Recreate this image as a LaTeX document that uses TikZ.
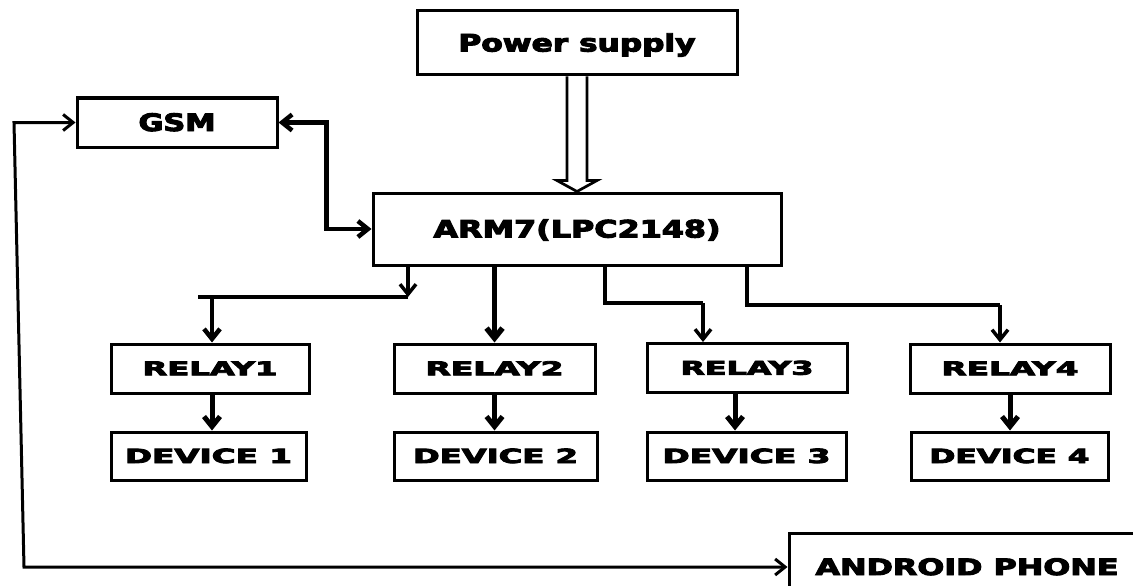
\documentclass[tikz,border=0pt]{standalone}
\usepackage{fontspec}
\setmainfont{DejaVu Sans}[BoldFeatures={FakeBold=4}]
\usetikzlibrary{arrows.meta,calc}
\newcommand\lbl[3]{\resizebox{#1pt}{\height}{\fontsize{#2pt}{#2pt}\selectfont\bfseries #3}}
\begin{document}
\begin{tikzpicture}[x=1pt,y=-1pt,
  blk/.style={draw,line width=3pt,inner sep=0pt,text height=#1,text depth=0pt},
  blk/.default=17pt,
  con/.style={line width=#1,line cap=butt,line join=miter},
  con/.default=3pt,
  arr/.style={-{Straight Barb[length=10pt,width=16pt]}},
  darr/.style={{Straight Barb[length=10pt,width=16pt]}-{Straight Barb[length=10pt,width=16pt]}}]
\clip (0,0) rectangle (1133,586);
\fill[white] (0,0) rectangle (1133,586);

% blocks
\node[blk, minimum width=320pt, minimum height=64pt] (ps) at (577,43) {\lbl{237}{24}{Power supply}};
\node[blk, minimum width=200pt, minimum height=49pt] (gsm) at (177,122.5) {\lbl{77}{24}{GSM}};
\node[blk, minimum width=408pt, minimum height=72pt] (arm) at (577,229) {\lbl{287}{24}{ARM7(LPC2148)}};

\node[blk=13.5pt, minimum width=198pt, minimum height=49pt] (r1) at (210,368.5) {\lbl{135}{19}{RELAY1}};
\node[blk=13.5pt, minimum width=201pt, minimum height=49pt] (r2) at (494.5,368.5) {\lbl{138}{19}{RELAY2}};
\node[blk=13.5pt, minimum width=200pt, minimum height=49pt] (r3) at (747,368) {\lbl{133}{19}{RELAY3}};
\node[blk=13.5pt, minimum width=200pt, minimum height=49pt] (r4) at (1010,368.5) {\lbl{137}{19}{RELAY4}};

\node[blk=14pt, minimum width=195pt, minimum height=48pt] (d1) at (208.5,456) {\lbl{167}{19.5}{DEVICE 1}};
\node[blk=14pt, minimum width=203pt, minimum height=48pt] (d2) at (495.5,456) {\lbl{165}{19.5}{DEVICE 2}};
\node[blk=14pt, minimum width=199pt, minimum height=48pt] (d3) at (746.5,456) {\lbl{168}{19.5}{DEVICE 3}};
\node[blk=14pt, minimum width=197pt, minimum height=48pt] (d4) at (1009.5,456) {\lbl{160}{19.5}{DEVICE 4}};

\node[blk=16pt, minimum width=356pt, minimum height=68pt] (ph) at (967,567) {\lbl{303}{22.5}{ANDROID PHONE}};

% power supply hollow arrow
\draw[line width=2.7pt,line join=miter]
  ($(ps.south)+(-10,0)$) -- ($(arm.north)+(-10,-11)$) -- ($(arm.north)+(-20,-11)$)
  -- (arm.north) -- ($(arm.north)+(20,-11)$) -- ($(arm.north)+(10,-11)$) -- ($(ps.south)+(10,0)$);

% GSM <-> ARM
\draw[con=4.5pt,darr] (gsm.east) -- ++(48,0) |- (arm.west);

% GSM <-> Android phone loop
\coordinate (lt) at (14,122.5);
\coordinate (lb) at (24,567);
\draw[con=3pt,darr] (gsm.west) -- (lt) -- (lb) -- (ph.west);

% ARM -> RELAY1
\coordinate (j1) at (408,297);
\draw[con=3.5pt,arr] ([xshift=-169pt]arm.south) -- (j1);
\draw[con=3.5pt] (j1) -- ([xshift=-12pt]r1.north |- j1);
\draw[con=4.5pt,arr] ([xshift=2pt]r1.north |- j1) -- ([xshift=2pt]r1.north);

% ARM -> RELAY2
\draw[con=5.5pt,arr] (arm.south -| r2.north) -- (r2.north);

% ARM -> RELAY3
\coordinate (k3) at (703,303);
\draw[con=4.5pt] ([xshift=28pt]arm.south) |- (k3);
\draw[con=3.5pt,arr] (k3) -- (k3 |- r3.north);

% ARM -> RELAY4
\coordinate (k4) at (1000,305);
\draw[con=4.5pt] ([xshift=170pt]arm.south) |- (k4);
\draw[con=3.5pt,arr] (k4) -- (k4 |- r4.north);

% RELAY -> DEVICE
\coordinate (a1) at ([xshift=2pt]r1.south);
\draw[con=5pt,arr] (a1) -- (a1 |- d1.north);
\draw[con=5pt,arr] (r2.south) -- (r2.south |- d2.north);
\coordinate (a3) at ([xshift=-12pt]r3.south);
\draw[con=5pt,arr] (a3) -- (a3 |- d3.north);
\draw[con=5pt,arr] (r4.south) -- (r4.south |- d4.north);
\end{tikzpicture}
\end{document}
